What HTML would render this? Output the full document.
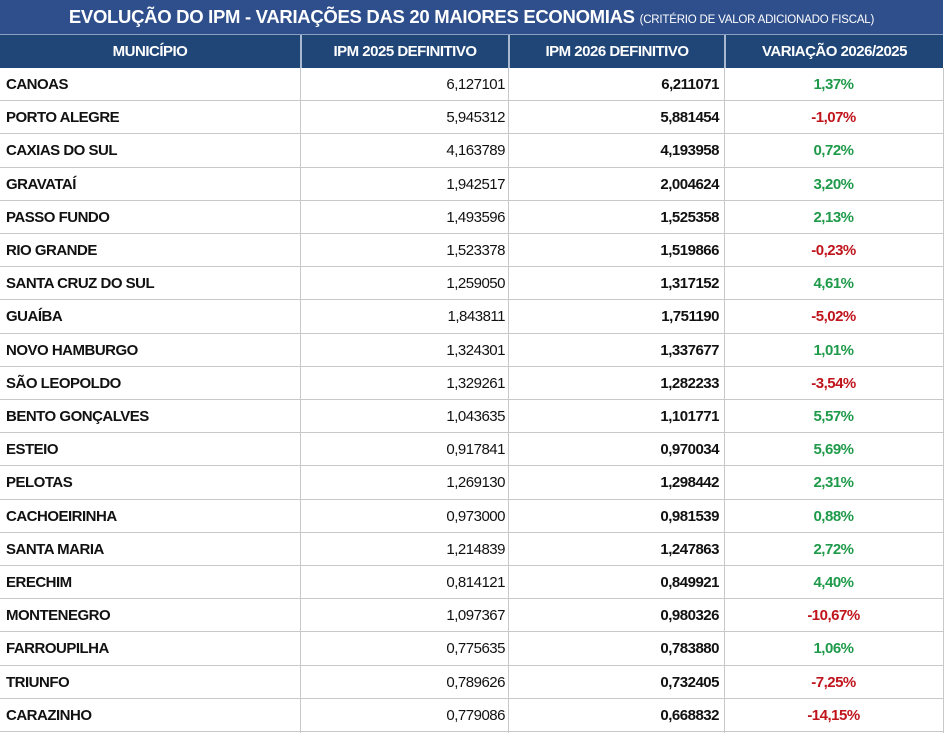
<!DOCTYPE html>
<html><head><meta charset="utf-8"><style>
body{margin:0;width:945px;height:733px;background:#fff;position:relative;overflow:hidden;font-family:"Liberation Sans",sans-serif;}
.t{position:absolute;left:0;top:0;width:943px;height:34px;background:#2f4f8c;color:#fff;font-weight:bold;font-size:18.5px;line-height:34px;text-align:center;letter-spacing:-0.3px;border-bottom:1px solid #8aa0c0;}
.t small{font-size:11.5px;font-weight:normal;letter-spacing:-0.2px}
.h{position:absolute;top:35px;height:33px;background:#1f4677;color:#fff;font-weight:bold;font-size:15px;line-height:33px;text-align:center;letter-spacing:-0.5px;}
.v{position:absolute;width:1px;background:#c8c8c8;top:68px;height:665px}
.hv{position:absolute;width:2px;background:#a8b8d0;top:35px;height:33px}
.r{position:absolute;left:0;width:943px;height:33.2px;border-bottom:1px solid #c8c8c8;box-sizing:border-box;font-size:15px;letter-spacing:-0.5px;line-height:33px;color:#111;}
.r span{position:absolute;top:0}
.n{left:6px;font-weight:bold}
.a{right:438px}
.b{right:224px;font-weight:bold}
.p{left:724px;width:219px;text-align:center;font-weight:bold}
.g{color:#1f9a4a}.d{color:#c0141c}
</style></head><body>
<div class="t">EVOLUÇÃO DO IPM - VARIAÇÕES DAS 20 MAIORES ECONOMIAS <small>(CRITÉRIO DE VALOR ADICIONADO FISCAL)</small></div>
<div class="h" style="left:0;width:300px">MUNICÍPIO</div>
<div class="h" style="left:302px;width:206px">IPM 2025 DEFINITIVO</div>
<div class="h" style="left:510px;width:214px">IPM 2026 DEFINITIVO</div>
<div class="h" style="left:726px;width:217px">VARIAÇÃO 2026/2025</div>
<div class="hv" style="left:300px"></div><div class="hv" style="left:508px"></div><div class="hv" style="left:724px"></div>
<div class="v" style="left:300px"></div><div class="v" style="left:508px"></div><div class="v" style="left:724px"></div><div class="v" style="left:943px"></div>
<div class="r" style="top:68.0px"><span class="n">CANOAS</span><span class="a">6,127101</span><span class="b">6,211071</span><span class="p g">1,37%</span></div>
<div class="r" style="top:101.2px"><span class="n">PORTO ALEGRE</span><span class="a">5,945312</span><span class="b">5,881454</span><span class="p d">-1,07%</span></div>
<div class="r" style="top:134.4px"><span class="n">CAXIAS DO SUL</span><span class="a">4,163789</span><span class="b">4,193958</span><span class="p g">0,72%</span></div>
<div class="r" style="top:167.6px"><span class="n">GRAVATAÍ</span><span class="a">1,942517</span><span class="b">2,004624</span><span class="p g">3,20%</span></div>
<div class="r" style="top:200.8px"><span class="n">PASSO FUNDO</span><span class="a">1,493596</span><span class="b">1,525358</span><span class="p g">2,13%</span></div>
<div class="r" style="top:234.0px"><span class="n">RIO GRANDE</span><span class="a">1,523378</span><span class="b">1,519866</span><span class="p d">-0,23%</span></div>
<div class="r" style="top:267.2px"><span class="n">SANTA CRUZ DO SUL</span><span class="a">1,259050</span><span class="b">1,317152</span><span class="p g">4,61%</span></div>
<div class="r" style="top:300.4px"><span class="n">GUAÍBA</span><span class="a">1,843811</span><span class="b">1,751190</span><span class="p d">-5,02%</span></div>
<div class="r" style="top:333.6px"><span class="n">NOVO HAMBURGO</span><span class="a">1,324301</span><span class="b">1,337677</span><span class="p g">1,01%</span></div>
<div class="r" style="top:366.8px"><span class="n">SÃO LEOPOLDO</span><span class="a">1,329261</span><span class="b">1,282233</span><span class="p d">-3,54%</span></div>
<div class="r" style="top:400.0px"><span class="n">BENTO GONÇALVES</span><span class="a">1,043635</span><span class="b">1,101771</span><span class="p g">5,57%</span></div>
<div class="r" style="top:433.2px"><span class="n">ESTEIO</span><span class="a">0,917841</span><span class="b">0,970034</span><span class="p g">5,69%</span></div>
<div class="r" style="top:466.4px"><span class="n">PELOTAS</span><span class="a">1,269130</span><span class="b">1,298442</span><span class="p g">2,31%</span></div>
<div class="r" style="top:499.6px"><span class="n">CACHOEIRINHA</span><span class="a">0,973000</span><span class="b">0,981539</span><span class="p g">0,88%</span></div>
<div class="r" style="top:532.8px"><span class="n">SANTA MARIA</span><span class="a">1,214839</span><span class="b">1,247863</span><span class="p g">2,72%</span></div>
<div class="r" style="top:566.0px"><span class="n">ERECHIM</span><span class="a">0,814121</span><span class="b">0,849921</span><span class="p g">4,40%</span></div>
<div class="r" style="top:599.2px"><span class="n">MONTENEGRO</span><span class="a">1,097367</span><span class="b">0,980326</span><span class="p d">-10,67%</span></div>
<div class="r" style="top:632.4px"><span class="n">FARROUPILHA</span><span class="a">0,775635</span><span class="b">0,783880</span><span class="p g">1,06%</span></div>
<div class="r" style="top:665.6px"><span class="n">TRIUNFO</span><span class="a">0,789626</span><span class="b">0,732405</span><span class="p d">-7,25%</span></div>
<div class="r" style="top:698.8px"><span class="n">CARAZINHO</span><span class="a">0,779086</span><span class="b">0,668832</span><span class="p d">-14,15%</span></div>
</body></html>
